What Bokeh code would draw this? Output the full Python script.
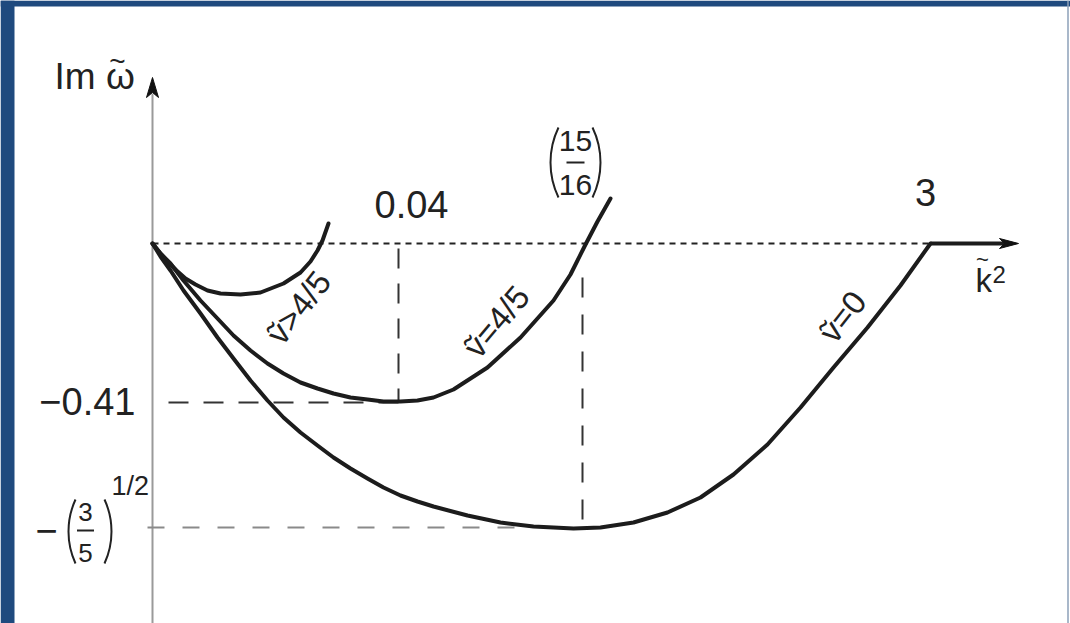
import math
from bokeh.plotting import figure
from bokeh.models import Range1d
from bokeh.core.properties import value
from bokeh.embed import file_html
from bokeh.resources import INLINE

# ---------------- data (schematic diagram, not to scale) ----------------
# x ~ k~^2 , y ~ Im w~  (schematic units)
nu_gt_x = [0, 0.08, 0.16, 0.24, 0.33, 0.43, 0.55, 0.68, 0.88, 1.08, 1.31, 1.48, 1.58, 1.65, 1.70, 1.76]
nu_gt_y = [0, -0.10, -0.19, -0.27, -0.35, -0.41, -0.47, -0.50, -0.51, -0.49, -0.40, -0.29, -0.18, -0.07, 0.03, 0.20]

nu_eq_x = [0, 0.08, 0.18, 0.31, 0.48, 0.65, 0.81, 0.98, 1.15, 1.31, 1.48, 1.65, 1.81, 1.98, 2.15,
           2.31, 2.48, 2.65, 2.81, 3.01, 3.35, 3.68, 4.01, 4.18, 4.33, 4.45, 4.58]
nu_eq_y = [0, -0.10, -0.20, -0.37, -0.57, -0.75, -0.92, -1.07, -1.20, -1.30, -1.39, -1.45, -1.50, -1.54, -1.56,
           -1.58, -1.58, -1.57, -1.54, -1.46, -1.24, -0.94, -0.57, -0.31, -0.01, 0.22, 0.45]

nu_zero_x = [0, 0.08, 0.18, 0.31, 0.48, 0.65, 0.81, 0.98, 1.15, 1.31, 1.48, 1.65, 1.81, 1.98, 2.15, 2.31,
             2.48, 2.65, 2.81, 3.15, 3.48, 3.81, 4.21, 4.48, 4.81, 5.15, 5.48, 5.81, 6.15, 6.48, 6.81,
             7.15, 7.48, 7.78]
nu_zero_y = [0, -0.13, -0.27, -0.47, -0.70, -0.94, -1.15, -1.37, -1.57, -1.74, -1.89, -2.02, -2.14, -2.25,
             -2.35, -2.44, -2.52, -2.58, -2.63, -2.72, -2.79, -2.83, -2.85, -2.84, -2.79, -2.69, -2.54,
             -2.31, -2.01, -1.64, -1.24, -0.84, -0.42, 0]

# marked abscissae: k~^2 = 0.04, 15/16, 3
k2_marks = [2.46, 4.30, 7.78]
k2_labels = ["0.04", ("15", "16"), "3"]
# marked ordinates: Im w~ = -0.41, -(3/5)^(1/2)
im_marks = [-1.59, -2.84]
im_labels = ["\u22120.41", ("3", "5", "1/2")]

curve_labels = ["\u1e7d>4/5", "\u1e7d=4/5", "\u1e7d=0"]
y_title = ("Im \u03c9", "~")
x_title = ("k", "~", "2")

# ---------------- figure ----------------
PX = 100.0
W, H = 1070, 623
X0, Y0 = -1.52, -3.80
XT, YT = X0 + W / PX, Y0 + H / PX
p = figure(width=W, height=H,
           x_range=Range1d(X0, XT), y_range=Range1d(Y0, YT),
           x_axis_type=None, y_axis_type=None,
           toolbar_location=None, output_backend="svg",
           min_border=0, outline_line_color=None,
           background_fill_color="white", border_fill_color="white")

FONT = value("Liberation Sans")
INK = "#1c1c1c"
TXT = "#222222"
BLUE = "#1f4a7e"

# blue slide frame (left and top) and thin right edge
p.quad(left=[X0], right=[X0 + 0.14], bottom=[Y0], top=[YT], fill_color=BLUE, line_color=None)
p.quad(left=[X0], right=[XT], bottom=[YT - 0.06], top=[YT], fill_color=BLUE, line_color=None)
p.segment(x0=[XT - 0.025], y0=[Y0], x1=[XT - 0.025], y1=[YT], line_color="#8da0b8", line_width=1.5)

# vertical axis (grey line, black arrow head)
p.segment(x0=[0], y0=[Y0 - 0.1], x1=[0], y1=[1.50], line_color="#9a9a9a", line_width=2)
tip_y, head_len, head_w = 1.66, 0.20, 0.06
p.patch([0, -head_w, 0, head_w], [tip_y, tip_y - head_len, tip_y - head_len + 0.05, tip_y - head_len],
        fill_color="#111111", line_color="#111111", line_width=1)

# horizontal axis: dotted up to k~^2 = 3, then thick solid arrow
p.line([0, k2_marks[2]], [0, 0], line_color="#222222", line_width=1.8, line_dash="6 5")
tip_x, hlen, hw = 8.66, 0.19, 0.05
p.line([k2_marks[2], tip_x - 0.12], [0, 0], line_color=INK, line_width=4)
p.patch([tip_x, tip_x - hlen, tip_x - hlen + 0.05, tip_x - hlen], [0, hw, 0, -hw],
        fill_color="#111111", line_color="#111111", line_width=1)

# dashed guide lines
p.line([k2_marks[0], k2_marks[0]], [-0.05, im_marks[0]], line_color="#333333", line_width=2, line_dash="20 15")
p.line([0.16, k2_marks[0]], [im_marks[0], im_marks[0]], line_color="#333333", line_width=2, line_dash="20 15")
p.line([k2_marks[1], k2_marks[1]], [-0.34, im_marks[1]], line_color="#333333", line_width=2, line_dash="20 17")
p.line([-0.05, 3.80], [im_marks[1], im_marks[1]], line_color="#8a8a8a", line_width=2, line_dash="17 18")

# curves
for xs, ys in [(nu_gt_x, nu_gt_y), (nu_eq_x, nu_eq_y), (nu_zero_x, nu_zero_y)]:
    p.line(xs, ys, line_color=INK, line_width=4, line_join="round", line_cap="round")

# ---------------- texts ----------------
def txt(x, y, s, size, align="left", angle=0.0):
    p.text(x=[x], y=[y], text=[s], text_font=FONT, text_font_size=f"{size}px",
           text_color=TXT, text_align=align, text_baseline="middle", angle=angle)

# axis titles
txt(-0.98, 1.67, y_title[0], 37)
txt(-0.35, 1.82, y_title[1], 28, align="center")
txt(8.23, -0.37, x_title[0], 33)
txt(8.30, -0.16, x_title[1], 22, align="center")
txt(8.40, -0.305, x_title[2], 24)

# k~^2 marks
txt(k2_marks[0] + 0.13, 0.395, k2_labels[0], 38, align="center")
txt(k2_marks[2] - 0.05, 0.51, k2_labels[2], 38, align="center")

# 15/16 fraction in parentheses
fx = k2_marks[1] - 0.07
txt(fx, 1.03, k2_labels[1][0], 30, align="center")
txt(fx, 0.59, k2_labels[1][1], 30, align="center")
p.segment(x0=[fx - 0.09], y0=[0.81], x1=[fx + 0.09], y1=[0.81], line_color=TXT, line_width=2)

def parens(xl, xr, yc, h, bulge):
    r = (h * h / 4 + bulge * bulge) / (2 * bulge)
    a = math.asin((h / 2) / r)
    rs = r * PX
    p.arc(x=[xl + r], y=[yc], radius=rs, radius_units="screen",
          start_angle=math.pi - a, end_angle=math.pi + a, line_color=TXT, line_width=2)
    p.arc(x=[xr - r], y=[yc], radius=rs, radius_units="screen",
          start_angle=-a, end_angle=a, line_color=TXT, line_width=2)

parens(3.98, 4.48, 0.81, 0.70, 0.08)

# Im marks
txt(-0.17, im_marks[0] + 0.01, im_labels[0], 38, align="right")
gx = -0.67
txt(-1.06, -2.87, "\u2212", 38, align="center")
txt(gx, -2.68, im_labels[1][0], 26, align="center")
txt(gx, -3.09, im_labels[1][1], 26, align="center")
p.segment(x0=[gx - 0.085], y0=[-2.87], x1=[gx + 0.085], y1=[-2.87], line_color=TXT, line_width=2)
parens(-0.84, -0.41, -2.88, 0.64, 0.07)
txt(-0.41, -2.42, im_labels[1][2], 27)

# curve labels (rotated along the curves)
txt(1.46, -0.64, curve_labels[0], 33, align="center", angle=math.radians(52))
txt(3.44, -0.78, curve_labels[1], 33, align="center", angle=math.radians(50))
txt(6.90, -0.73, curve_labels[2], 33, align="center", angle=math.radians(52))

open("out.html", "w").write(file_html(p, INLINE))
